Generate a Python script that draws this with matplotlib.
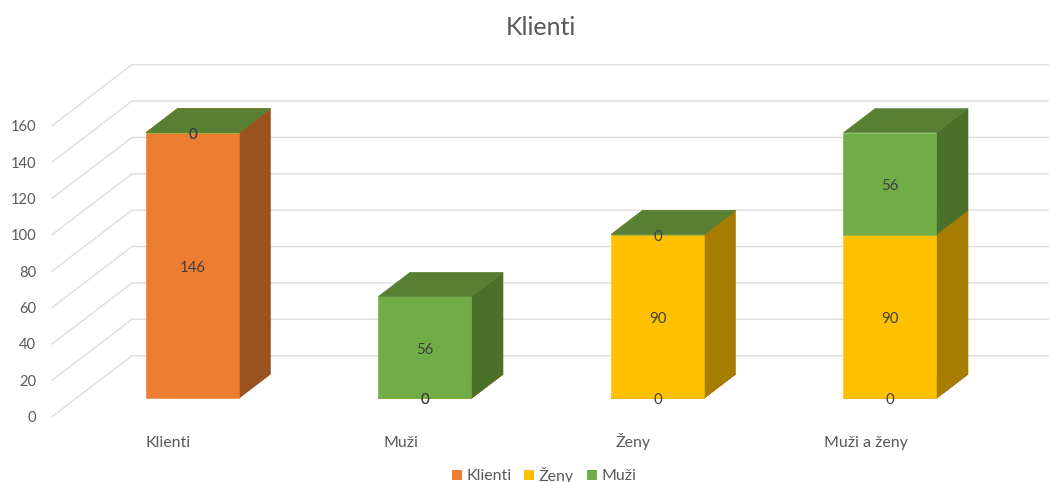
import matplotlib
matplotlib.use("Agg")
import matplotlib.pyplot as plt
from matplotlib.patches import Patch

plt.rcParams['font.family'] = ['Lato', 'DejaVu Sans']

categories = ['Klienti', 'Muži', 'Ženy', 'Muži a ženy']
klienti = [146, 0, 0, 0]
zeny = [0, 0, 90, 90]
muzi = [0, 56, 0, 56]
y_ticks = [0, 20, 40, 60, 80, 100, 120, 140, 160]

# series in stacking order: name, data, front, side, top
series = [
    ('Klienti', klienti, '#ED7D31', '#9A521F', '#B05C25'),
    ('Ženy', zeny, '#FFC000', '#A67D00', '#BF9000'),
    ('Muži', muzi, '#70AD47', '#4A7029', '#588035'),
]

# pixel size of the picture and of one axis unit
W, H = 1049, 482
px_cat = 232.5
px_val = 1.819
x0, y0 = 52, 416.7
depth_x = 80 / px_cat
depth_y = 61 / px_val
bar_w = 0.4
d_front, d_back = 0.303, 0.697


def oblique(c, v, d):
    # shift a point of the front plane towards the back wall
    return c + d * depth_x, v + d * depth_y


def face(ax, pts, color, z):
    xs = [p[0] for p in pts]
    ys = [p[1] for p in pts]
    ax.fill(xs, ys, facecolor=color, edgecolor=color, linewidth=0.4,
            zorder=z, clip_on=False)


fig = plt.figure(figsize=(W / 100, H / 100), dpi=100)
ax = fig.add_axes([x0 / W, (H - y0) / H, 1 - x0 / W, y0 / H])
ax.set_xlim(0, (W - x0) / px_cat)
ax.set_ylim(0, y0 / px_val)
for s in ax.spines.values():
    s.set_visible(False)

ax.set_yticks(y_ticks)
ax.set_xticks([i + 0.5 for i in range(len(categories))])
ax.set_xticklabels(categories, va='baseline')
ax.tick_params(axis='y', length=0, pad=11.5, labelsize=10.6, labelcolor='#595959')
ax.tick_params(axis='x', length=0, pad=21.5, labelsize=11.5, labelcolor='#595959')

# walls
grid_c = '#DDDDDD'
n = len(categories)
for v in y_ticks:
    a = oblique(0, v, 0)
    b = oblique(0, v, 1)
    c = oblique(n, v, 1)
    ax.plot([a[0], b[0], c[0]], [a[1], b[1], c[1]], color=grid_c, lw=1.0,
            zorder=1, clip_on=False)

# bars
for i in range(n):
    left = i + 0.5 - bar_w / 2
    right = i + 0.5 + bar_w / 2
    bottom = 0
    z = 3
    for name, vals, front, side, top in series:
        t = bottom + vals[i]
        face(ax, [oblique(right, bottom, d_front), oblique(right, bottom, d_back),
                  oblique(right, t, d_back), oblique(right, t, d_front)], side, z)
        face(ax, [oblique(left, bottom, d_front), oblique(right, bottom, d_front),
                  oblique(right, t, d_front), oblique(left, t, d_front)], front, z + 0.1)
        face(ax, [oblique(left, t, d_front), oblique(right, t, d_front),
                  oblique(right, t, d_back), oblique(left, t, d_back)], top, z + 0.2)
        bottom = t
        z += 1

# value labels, one per segment, zeros included
for i in range(n):
    bottom = 0
    for name, vals, front, side, top in series:
        lx, ly = oblique(i + 0.5, bottom + vals[i] / 2, d_front)
        ax.annotate(str(vals[i]), (lx, ly), xytext=(0.2, -1.6), textcoords='offset points',
                    ha='center', va='center', fontsize=10.8, color='#404040',
                    zorder=10, annotation_clip=False)
        bottom += vals[i]

fig.text(541 / W, 1 - 27.5 / H, 'Klienti', ha='center', va='center', fontsize=18,
         color='#595959')

handles = [Patch(facecolor=s[2], label=s[0]) for s in series]
fig.legend(handles=handles, loc='center', bbox_to_anchor=(544 / W, 1 - 475 / H),
           ncol=3, frameon=False, fontsize=11.5, labelcolor='#595959',
           handlelength=0.62, handleheight=0.62, handletextpad=0.3,
           columnspacing=0.8, borderpad=0)

fig.savefig('out.png', dpi=100)
